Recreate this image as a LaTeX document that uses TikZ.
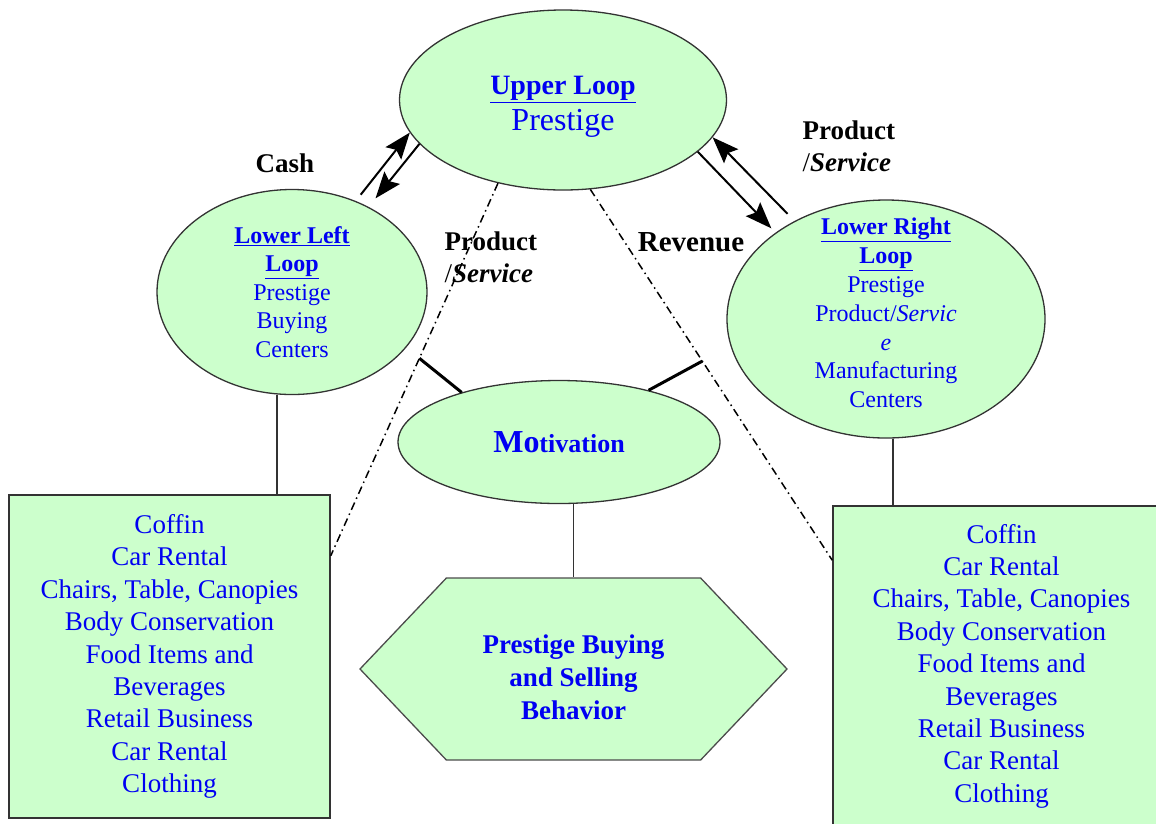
\documentclass[tikz,border=0pt]{standalone}
\usepackage{fontspec}
\setmainfont{Liberation Serif}
\usepackage{xcolor}
\usepackage{tikz}
\usetikzlibrary{shapes,arrows.meta}

\definecolor{paleGreen}{HTML}{CCFFCC}
\definecolor{txtBlue}{HTML}{0000F2}

\begin{document}
\begin{tikzpicture}[
        x=1pt, y=-1pt,
        loopell/.style={ellipse, draw=black!80, line width=1.3pt, fill=paleGreen, inner sep=0pt, align=center, text=txtBlue},
        ltext/.style={align=center, text=txtBlue, font=\fontsize{24}{28.8}\selectfont},
        itembox/.style={rectangle, draw=black!80, line width=1.5pt, fill=paleGreen, align=center, text=txtBlue, font=\fontsize{27}{32.4}\selectfont},
        behav/.style={signal, signal to=east and west, signal pointer angle=93, draw=black!70, line width=1.3pt, fill=paleGreen, minimum width=427pt, minimum height=182pt, inner sep=0pt},
        btext/.style={align=center, text=txtBlue, font=\bfseries\fontsize{27}{33}\selectfont},
        lbl/.style={font=\bfseries\fontsize{27}{32}\selectfont, align=left},
        flow/.style={line width=2pt, -{Stealth[scale=2.2, inset=2pt]}},
        ddash/.style={dash pattern=on 8pt off 4pt on 1.5pt off 4pt, line width=1.5pt},
        tee/.style={line width=3pt},
        link/.style={line width=1.4pt, draw=black!80}
    ]
        \clip (0,0) rectangle (1156,823);
        % loops
        \node[loopell, minimum width=327pt, minimum height=180pt,
            label={[ltext, font=\fontsize{28}{36}\selectfont, yshift=-7pt]center:{\underline{\textbf{Upper Loop}}\\{\fontsize{32}{36}\selectfont Prestige}}}] (upper) at (563,100) {};
        \node[loopell, minimum width=270pt, minimum height=205pt, font=\fontsize{24}{28.5}\selectfont] (lleft) at (292,292)
            {\underline{\textbf{Lower Left}}\\\underline{\textbf{Loop}}\\Prestige\\Buying\\Centers};
        \node[loopell, minimum width=318pt, minimum height=238pt,
            label={[ltext, yshift=6pt]center:{\underline{\textbf{Lower Right}}\\\underline{\textbf{Loop}}\\Prestige\\Product/\textit{Servic}\\\textit{e}\\Manufacturing\\Centers}}] (lright) at (886,319) {};
        \node[loopell, minimum width=322pt, minimum height=123pt, font=\bfseries] (motiv) at (559,442)
            {{\fontsize{32}{34}\selectfont Mo}{\fontsize{26}{30}\selectfont tivation}};
        \node[behav, label={[btext, yshift=-8pt]center:{Prestige Buying\\and Selling\\Behavior}}] (behav) at (573.5,669) {};
        % item lists
        \node[itembox, minimum width=321pt, minimum height=323pt] (lbox) at (169.5,656.5)
            {Coffin\\Car Rental\\Chairs, Table, Canopies\\Body Conservation\\Food Items and\\Beverages\\Retail Business\\Car Rental\\Clothing};
        \node[itembox, minimum width=337pt, minimum height=320pt] (rbox) at (1001.5,666)
            {Coffin\\Car Rental\\Chairs, Table, Canopies\\Body Conservation\\Food Items and\\Beverages\\Retail Business\\Car Rental\\Clothing};
        % flow labels
        \node[lbl] (cash) at (285,163) {Cash};
        \node[lbl, anchor=west] (psright) at (799,146) {Product\\{\mdseries/}\textit{Service}};
        \node[lbl, anchor=west] (psmid) at (441,257) {Product\\{\mdseries/}\textit{Service}};
        \node[lbl, font=\bfseries\fontsize{29}{32}\selectfont] (rev) at (691,242) {Revenue};
        % exchange arrows
        \draw[flow, shorten <=8pt] (lleft.55) -- (upper.192);
        \draw[flow, shorten >=11pt] (upper.197) -- (lleft.48);
        \draw[flow, shorten <=10pt] (lright.133) -- (upper.-14);
        \draw[flow, shorten >=6pt] (upper.-21.5) -- (lright.142);
        % dash-dot links and tees
        \draw[ddash] (upper.232) -- coordinate[pos=0.47] (ltee) (lbox.32);
        \draw[ddash] (upper.-73) -- coordinate[pos=0.463] (rtee) (rbox.148);
        \draw[tee] (motiv.153) -- (ltee);
        \draw[tee] (motiv.30) -- (rtee);
        % plain links
        \draw[link] ([xshift=-15pt]lleft.south) -- ([xshift=-15pt]lleft.south |- lbox.north);
        \draw[link] ([xshift=7pt]lright.south) -- ([xshift=7pt]lright.south |- rbox.north);
        \draw[link] (motiv.south -| behav.north) -- (behav.north);
    \end{tikzpicture}
\end{document}
